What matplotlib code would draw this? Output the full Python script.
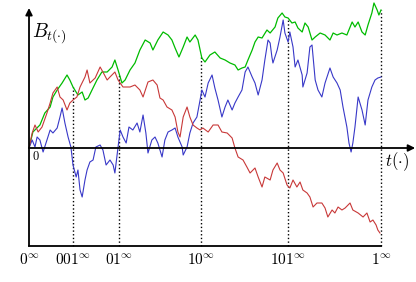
import numpy as np
import matplotlib

matplotlib.use("Agg")
import matplotlib.pyplot as plt

plt.rcParams["mathtext.fontset"] = "cm"

# paths: time in [0, 1], value in arbitrary units
T_GREEN = [0, 0.011, 0.031, 0.045, 0.060, 0.068, 0.080, 0.094, 0.108, 0.116,
           0.125, 0.139, 0.151, 0.159, 0.168, 0.179, 0.193, 0.207, 0.222, 0.236,
           0.244, 0.253, 0.264, 0.273, 0.287, 0.301, 0.315, 0.330, 0.344, 0.352,
           0.366, 0.381, 0.395, 0.406, 0.415, 0.426, 0.438, 0.449, 0.457, 0.472,
           0.480, 0.491, 0.500, 0.514, 0.528, 0.543, 0.557, 0.571, 0.585, 0.594,
           0.605, 0.614, 0.622, 0.634, 0.642, 0.651, 0.662, 0.676, 0.685, 0.699,
           0.707, 0.719, 0.727, 0.736, 0.747, 0.756, 0.764, 0.776, 0.784, 0.793,
           0.804, 0.813, 0.827, 0.841, 0.855, 0.864, 0.875, 0.889, 0.903, 0.918,
           0.926, 0.935, 0.946, 0.955, 0.963, 0.974, 0.980, 0.989, 0.994, 1.000]
B_GREEN = [0, 0.16, 0.23, 0.35, 0.41, 0.51, 0.58, 0.65, 0.73, 0.68,
           0.61, 0.53, 0.56, 0.48, 0.50, 0.58, 0.68, 0.76, 0.76, 0.81,
           0.88, 0.78, 0.65, 0.68, 0.78, 0.85, 0.98, 1.08, 1.05, 0.98,
           1.08, 1.16, 1.13, 1.08, 1.00, 0.91, 1.01, 1.11, 1.06, 1.13,
           1.08, 0.90, 0.86, 0.93, 0.96, 0.90, 0.88, 0.85, 0.83, 0.78,
           0.80, 0.81, 0.88, 0.98, 1.06, 1.11, 1.10, 1.18, 1.15, 1.21,
           1.30, 1.35, 1.31, 1.30, 1.25, 1.26, 1.20, 1.16, 1.25, 1.21,
           1.08, 1.11, 1.15, 1.13, 1.08, 1.15, 1.13, 1.15, 1.13, 1.26,
           1.21, 1.26, 1.16, 1.13, 1.23, 1.35, 1.45, 1.38, 1.33, 1.38]

T_RED = [0, 0.009, 0.017, 0.026, 0.037, 0.051, 0.060, 0.068, 0.080, 0.088,
         0.097, 0.108, 0.116, 0.125, 0.136, 0.145, 0.159, 0.165, 0.173, 0.188,
         0.202, 0.210, 0.222, 0.230, 0.244, 0.253, 0.267, 0.287, 0.301, 0.315,
         0.324, 0.338, 0.352, 0.364, 0.372, 0.381, 0.392, 0.406, 0.415, 0.423,
         0.429, 0.438, 0.449, 0.457, 0.466, 0.477, 0.486, 0.494, 0.509, 0.523,
         0.537, 0.548, 0.563, 0.577, 0.585, 0.594, 0.608, 0.619, 0.628, 0.642,
         0.651, 0.662, 0.670, 0.685, 0.693, 0.705, 0.713, 0.722, 0.733, 0.741,
         0.750, 0.761, 0.770, 0.778, 0.790, 0.798, 0.807, 0.818, 0.832, 0.841,
         0.849, 0.861, 0.869, 0.878, 0.889, 0.898, 0.912, 0.920, 0.935, 0.949,
         0.960, 0.969, 0.977, 0.986, 0.991, 0.997]
B_RED = [0, 0.15, 0.23, 0.16, 0.21, 0.35, 0.45, 0.55, 0.61, 0.51,
         0.48, 0.38, 0.45, 0.48, 0.51, 0.61, 0.71, 0.78, 0.65, 0.70,
         0.81, 0.76, 0.68, 0.71, 0.76, 0.68, 0.61, 0.61, 0.63, 0.58,
         0.51, 0.66, 0.68, 0.63, 0.50, 0.48, 0.41, 0.38, 0.31, 0.16,
         0.11, 0.31, 0.41, 0.31, 0.23, 0.20, 0.18, 0.20, 0.16, 0.23,
         0.23, 0.16, 0.15, 0.10, 0.00, -0.09, -0.12, -0.19, -0.25, -0.20,
         -0.29, -0.39, -0.29, -0.32, -0.22, -0.15, -0.22, -0.25, -0.37, -0.40,
         -0.32, -0.39, -0.34, -0.42, -0.45, -0.49, -0.59, -0.55, -0.55, -0.60,
         -0.69, -0.62, -0.65, -0.59, -0.62, -0.60, -0.55, -0.62, -0.65, -0.69,
         -0.65, -0.74, -0.72, -0.77, -0.82, -0.85]

T_BLUE = [0, 0.009, 0.017, 0.023, 0.031, 0.040, 0.051, 0.060, 0.068, 0.080,
          0.088, 0.094, 0.102, 0.111, 0.119, 0.125, 0.134, 0.139, 0.145, 0.151,
          0.159, 0.165, 0.173, 0.182, 0.190, 0.202, 0.210, 0.219, 0.230, 0.239,
          0.244, 0.253, 0.259, 0.267, 0.276, 0.284, 0.295, 0.307, 0.315, 0.324,
          0.332, 0.338, 0.349, 0.358, 0.366, 0.378, 0.386, 0.395, 0.406, 0.415,
          0.423, 0.435, 0.438, 0.449, 0.457, 0.466, 0.477, 0.486, 0.491, 0.500,
          0.509, 0.520, 0.528, 0.537, 0.548, 0.557, 0.565, 0.577, 0.585, 0.594,
          0.605, 0.614, 0.622, 0.634, 0.642, 0.651, 0.662, 0.670, 0.679, 0.685,
          0.690, 0.693, 0.705, 0.713, 0.722, 0.727, 0.736, 0.741, 0.750, 0.756,
          0.764, 0.776, 0.778, 0.790, 0.798, 0.804, 0.813, 0.821, 0.832, 0.841,
          0.855, 0.864, 0.875, 0.884, 0.892, 0.903, 0.909, 0.915, 0.920, 0.926,
          0.935, 0.946, 0.955, 0.963, 0.974, 0.983, 0.991, 1.000]
B_BLUE = [0, 0.08, 0.01, 0.11, 0.08, -0.04, 0.08, 0.18, 0.15, 0.20,
          0.31, 0.40, 0.25, 0.11, 0.01, -0.17, -0.29, -0.22, -0.42, -0.49,
          -0.32, -0.22, -0.14, -0.12, 0.01, 0.03, -0.02, -0.17, -0.12, -0.17,
          -0.25, 0.01, 0.18, 0.11, 0.05, 0.21, 0.18, 0.25, 0.16, 0.33,
          0.15, -0.05, 0.08, 0.11, 0.05, -0.09, 0.08, 0.16, 0.18, 0.20,
          0.11, 0.01, -0.07, 0.01, 0.15, 0.25, 0.31, 0.48, 0.58, 0.51,
          0.65, 0.73, 0.60, 0.48, 0.31, 0.41, 0.48, 0.38, 0.45, 0.51,
          0.58, 0.76, 0.81, 0.71, 0.65, 0.53, 0.68, 0.88, 1.08, 1.05,
          0.91, 0.85, 0.98, 1.11, 1.28, 1.15, 1.06, 1.16, 1.01, 0.81,
          0.88, 0.73, 0.61, 0.75, 1.01, 1.03, 0.68, 0.58, 0.51, 0.65,
          0.80, 0.71, 0.65, 0.58, 0.41, 0.21, 0.05, -0.04, 0.05, 0.21,
          0.51, 0.38, 0.23, 0.48, 0.61, 0.68, 0.70, 0.71]

TICK_POS = [0, 0.125, 0.256, 0.489, 0.736, 1.0]
TICK_LABELS = [r"$0^{\infty}$", r"$001^{\infty}$", r"$01^{\infty}$",
               r"$10^{\infty}$", r"$101^{\infty}$", r"$1^{\infty}$"]

FLOOR = -0.98

fig = plt.figure(figsize=(4.16, 2.82), dpi=100)
ax = fig.add_axes([0, 0, 1, 1])
ax.set_xlim(-0.0824, 1.0994)
ax.set_ylim(-1.34, 1.48)
ax.axis("off")

ax.plot(T_GREEN, B_GREEN, color="#00bb00", lw=0.9, zorder=3)
ax.plot(T_BLUE, B_BLUE, color="#3838c8", lw=0.8, zorder=3)
ax.plot(T_RED, B_RED, color="#c83838", lw=0.8, zorder=3)

# dotted guides up to the highest path
for t in TICK_POS[1:]:
    top = max(np.interp(t, T_GREEN, B_GREEN), np.interp(t, T_BLUE, B_BLUE),
              np.interp(t, T_RED, B_RED))
    ax.plot([t, t], [FLOOR, top], color="black", ls=":", lw=1.0, zorder=2)

# axes
ax.plot([0, 1], [FLOOR, FLOOR], color="black", lw=1.3, zorder=4)
ax.annotate("", xy=(0, 1.40), xytext=(0, FLOOR),
            arrowprops=dict(arrowstyle="-|>", color="black", lw=1.3,
                            mutation_scale=10, shrinkA=0, shrinkB=0))
ax.annotate("", xy=(1.097, 0), xytext=(0, 0),
            arrowprops=dict(arrowstyle="-|>", color="black", lw=1.3,
                            mutation_scale=10, shrinkA=0, shrinkB=0))

for t, lab in zip(TICK_POS, TICK_LABELS):
    ax.text(t, -1.12, lab, ha="center", va="center", fontsize=11)

ax.text(0.009, -0.09, r"$0$", ha="left", va="center", fontsize=9)
ax.text(0.009, 1.15, r"$B_{t(\cdot)}$", ha="left", va="center", fontsize=14)
ax.text(1.045, -0.14, r"$t(\cdot)$", ha="center", va="center", fontsize=12)

fig.savefig("out.png", dpi=100)
